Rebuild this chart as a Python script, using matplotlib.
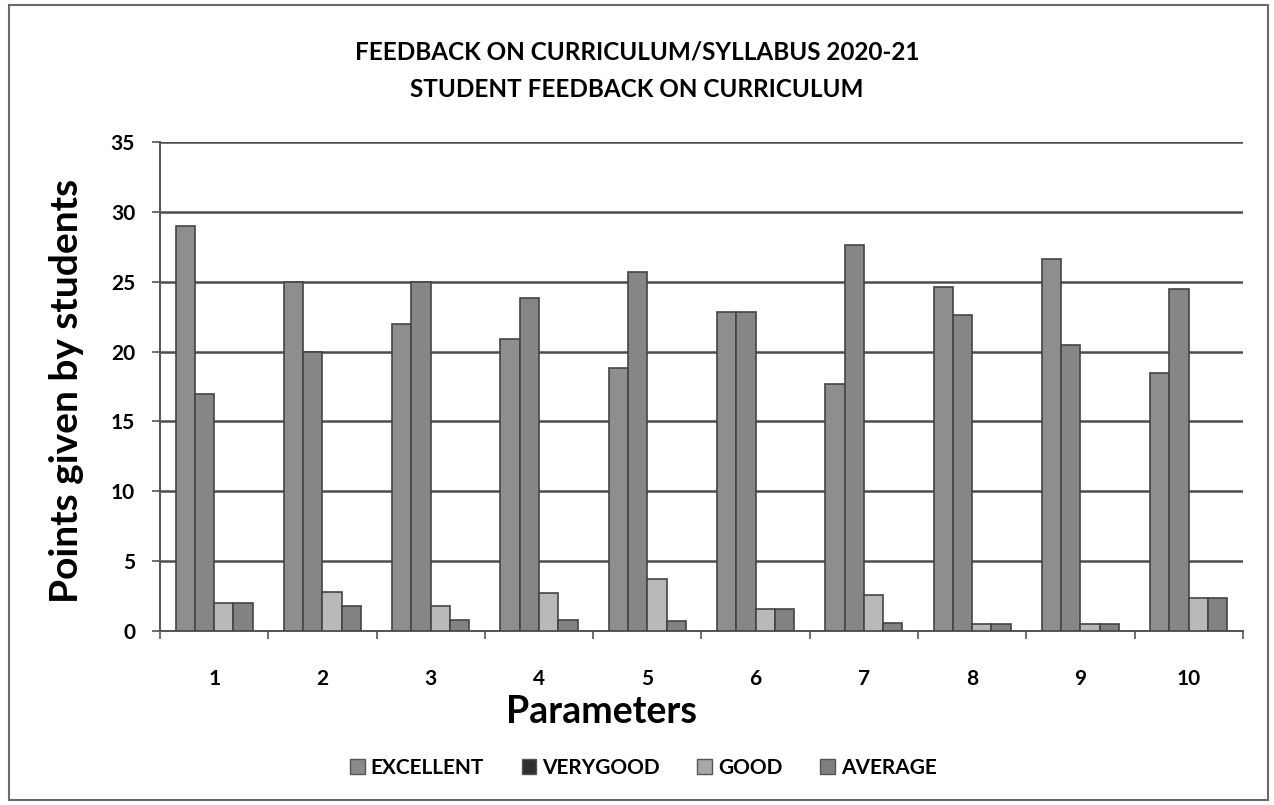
import numpy as np
import matplotlib.pyplot as plt
from matplotlib.patches import Patch, Rectangle

# Datos
parametros = ['1', '2', '3', '4', '5', '6', '7', '8', '9', '10']
excellent = [29.0, 25.0, 22.0, 20.9, 18.8, 22.8, 17.7, 24.6, 26.6, 18.5]
verygood = [17.0, 20.0, 25.0, 23.8, 25.7, 22.8, 27.6, 22.6, 20.5, 24.5]
good = [2.0, 2.8, 1.8, 2.7, 3.7, 1.6, 2.6, 0.5, 0.5, 2.4]
average = [2.0, 1.8, 0.8, 0.8, 0.7, 1.6, 0.6, 0.5, 0.5, 2.4]

series = ['EXCELLENT', 'VERYGOOD', 'GOOD', 'AVERAGE']
bar_colors = ['#8e8e8e', '#868686', '#b9b9b9', '#828282']
legend_colors = ['#8a8a8a', '#2e2e2e', '#a8a8a8', '#7e7e7e']

plt.rcParams['font.family'] = ['Lato', 'DejaVu Sans']

fig = plt.figure(figsize=(12.74, 8.05), dpi=100)
ax = fig.add_axes([0.1256, 0.2161, 0.850, 0.6075])

# marco exterior
fig.patches.append(Rectangle((0.007, 0.006), 0.988, 0.988, transform=fig.transFigure,
                             fill=False, edgecolor='#6a6a6a', linewidth=1.5))

x = np.arange(len(parametros))
w = 0.178
valores = [excellent, verygood, good, average]
for i, vals in enumerate(valores):
    ax.bar(x + (i - 1.5) * w, vals, width=w, color=bar_colors[i],
           edgecolor='#444444', linewidth=1.2, zorder=3)

ax.set_xlim(-0.5, len(parametros) - 0.5)
ax.set_ylim(0, 35)
ax.set_yticks(range(0, 36, 5))
ax.yaxis.grid(True, color='#4d4d4d', linewidth=1.8, zorder=0)
ax.tick_params(axis='y', labelsize=15, length=6, width=1.2, color='#555555', pad=12)

ax.set_xticks(x)
ax.set_xticklabels(parametros, fontsize=15)
ax.tick_params(axis='x', length=0, pad=27)
ax.set_xticks(np.arange(-0.5, len(parametros)), minor=True)
ax.tick_params(axis='x', which='minor', length=6, width=1.2, color='#555555')
for lbl in ax.get_xticklabels() + ax.get_yticklabels():
    lbl.set_fontweight('bold')

for s in ['top', 'right']:
    ax.spines[s].set_visible(False)
for s in ['left', 'bottom']:
    ax.spines[s].set_color('#555555')
    ax.spines[s].set_linewidth(1.4)

ax.set_ylabel('Points given by students', fontsize=28, fontweight='bold')
ax.yaxis.set_label_coords(-0.070, 0.49)
ax.set_xlabel('Parameters', fontsize=27, fontweight='bold')
ax.xaxis.set_label_coords(0.408, -0.13)

fig.text(0.5, 0.935, 'FEEDBACK ON CURRICULUM/SYLLABUS 2020-21', ha='center', va='center',
         fontsize=17.5, fontweight='bold')
fig.text(0.5, 0.889, 'STUDENT FEEDBACK ON CURRICULUM', ha='center', va='center',
         fontsize=17.5, fontweight='bold')

handles = [Patch(facecolor=c, edgecolor='#555555') for c in legend_colors]
fig.legend(handles, series, loc='center', bbox_to_anchor=(0.505, 0.046), ncol=4,
           frameon=False, prop={'size': 15, 'weight': 'bold'}, handlelength=0.7,
           handleheight=0.7, handletextpad=0.3, columnspacing=1.8)

plt.savefig('out.png', dpi=100)
